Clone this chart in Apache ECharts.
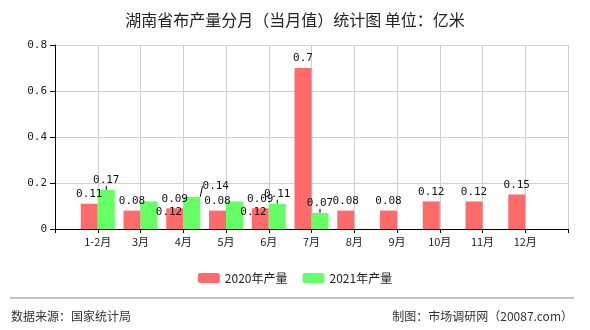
<!DOCTYPE html>
<html><head><meta charset="utf-8">
<script src="https://cdn.jsdelivr.net/npm/echarts@6/dist/echarts.min.js"></script>
<style>html,body{margin:0;padding:0;background:#fff}#c{width:590px;height:330px}</style>
</head><body><div id="c"></div>
<script>
const categories = ['', '1-2月', '3月', '4月', '5月', '6月', '7月', '8月', '9月', '10月', '11月', '12月', ''];
const values2020 = [null, 0.11, 0.08, 0.09, 0.08, 0.09, 0.7, 0.08, 0.08, 0.12, 0.12, 0.15, null];
const values2021 = [null, 0.17, 0.12, 0.14, 0.12, 0.11, 0.07, null, null, null, null, null, null];
const yTicks = [0, 0.2, 0.4, 0.6, 0.8];
const seriesNames = ['2020年产量', '2021年产量'];
const titleText = '湖南省布产量分月（当月值）统计图 单位：亿米';
const sourceText = '数据来源：国家统计局';
const makerText = '制图：市场调研网（20087.com）';

const chart = echarts.init(document.getElementById('c'), null, {renderer: 'canvas'});
const FONT = '"Noto Sans CJK SC", sans-serif';
const MONO = 'SimSun, "DejaVu Sans Mono", monospace';
const labelMoves = {2: [20, 20], 3: [24, -1], 4: [19, 20]};
chart.setOption({
  animation: false,
  backgroundColor: '#fff',
  title: {text: titleText, left: 'center', top: 7,
    textStyle: {fontSize: 16, fontWeight: 'normal', color: '#222', fontFamily: FONT}},
  legend: {data: seriesNames, bottom: 41, left: 'center', itemWidth: 22, itemHeight: 10, itemGap: 15,
    textStyle: {fontSize: 12, color: '#222', fontFamily: FONT}},
  grid: {left: 55, right: 22, top: 45, bottom: 101},
  xAxis: {type: 'category', data: categories, boundaryGap: false,
    axisLine: {lineStyle: {color: '#000'}},
    axisTick: {show: true, length: 4, lineStyle: {color: '#000'}},
    axisLabel: {color: '#222', fontSize: 11, fontFamily: FONT, margin: 7},
    splitLine: {show: true, lineStyle: {color: '#d0d0d0'}}},
  yAxis: {type: 'value', min: yTicks[0], max: yTicks[yTicks.length - 1], interval: 0.2,
    axisLine: {show: true, lineStyle: {color: '#000'}},
    axisTick: {show: true, length: 5, lineStyle: {color: '#000'}},
    axisLabel: {color: '#222', fontSize: 11, fontFamily: MONO,
      formatter: v => (Math.round(v * 10) / 10).toString()},
    splitLine: {lineStyle: {color: '#d0d0d0'}}},
  series: [
    {name: seriesNames[0], type: 'bar', data: values2020, barWidth: 17, barGap: '0%',
      itemStyle: {color: '#ff6b6b'},
      label: {show: true, position: 'top', color: '#111', fontSize: 11, fontFamily: MONO, distance: 4}},
    {name: seriesNames[1], type: 'bar', data: values2021, barWidth: 17, barGap: '0%',
      itemStyle: {color: '#66ff66'},
      label: {show: true, position: 'top', color: '#111', fontSize: 11, fontFamily: MONO, distance: 4},
      labelLine: {show: true, lineStyle: {color: '#000', width: 1}},
      labelLayout: function (p) {
        const d = labelMoves[p.dataIndex];
        if (d) return {dx: d[0], dy: d[1]};
        return {};
      }}
  ],
  graphic: [
    {type: 'line', shape: {x1: 10, y1: 298, x2: 574, y2: 298}, style: {stroke: '#888', lineWidth: 1}},
    {type: 'text', left: 11, top: 310, style: {text: sourceText, fontSize: 12, fill: '#333', fontFamily: FONT}},
    {type: 'text', right: 17, top: 310, style: {text: makerText, fontSize: 12, fill: '#333', fontFamily: FONT}}
  ]
});
</script></body></html>
